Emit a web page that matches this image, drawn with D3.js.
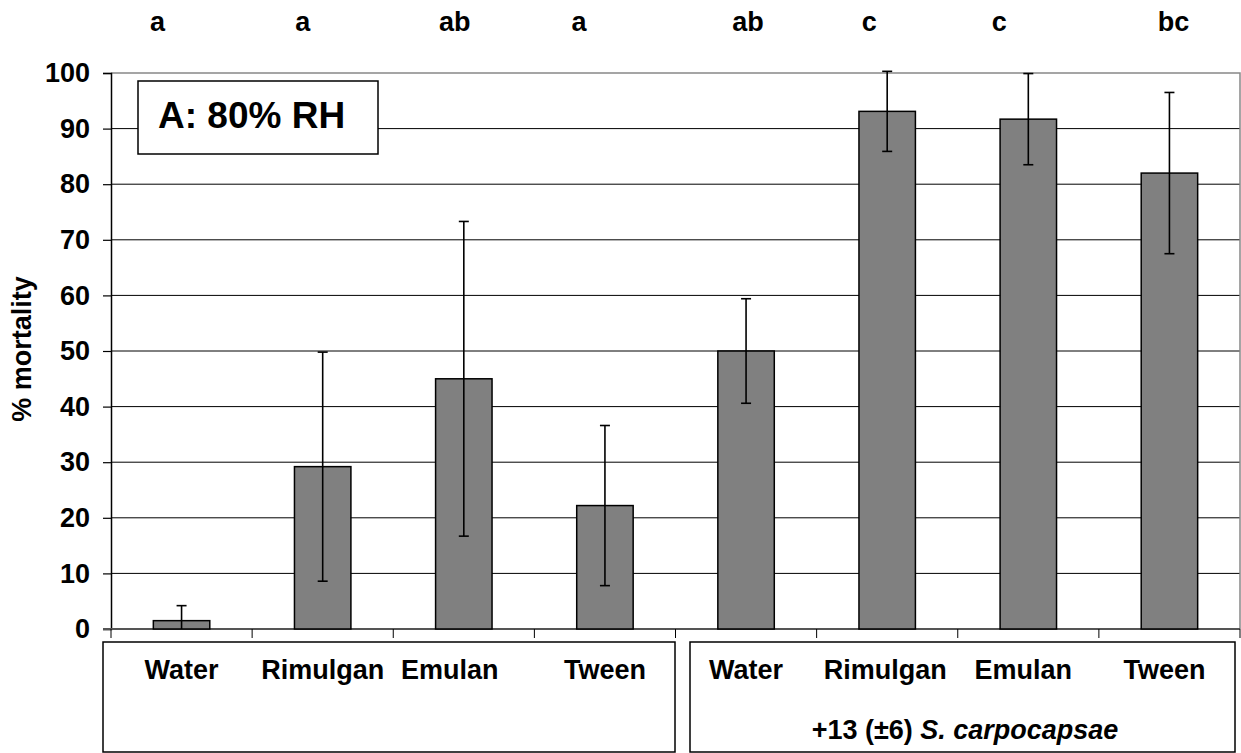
<!DOCTYPE html>
<html>
<head>
<meta charset="utf-8">
<script src="https://cdn.jsdelivr.net/npm/d3@7"></script>
<style>
  body { margin: 0; background: #fff; }
  svg { font-family: "Liberation Sans", Arial, sans-serif; font-weight: bold; }
</style>
</head>
<body>
<div class="chart"></div>
<script>
// data
const treatments = ["Water", "Rimulgan", "Emulan", "Tween", "Water", "Rimulgan", "Emulan", "Tween"];
const mortality = [1.5, 29.2, 45.0, 22.2, 50.0, 93.1, 91.7, 82.0];
const errors = [2.7, 20.6, 28.3, 14.4, 9.4, 7.2, 8.2, 14.5];
const letters = ["a", "a", "ab", "a", "ab", "c", "c", "bc"];
const yTicks = [0, 10, 20, 30, 40, 50, 60, 70, 80, 90, 100];
const groupLabel = "+13 (±6) ";
const groupSpecies = "S. carpocapsae";

// layout
const width = 1241, height = 753;
const plot = { left: 111, right: 1240, top: 73, bottom: 629 };
const letterNudge = [-24, -20, -9, -26, 2, -18, -29, 4];
const labelNudge = [0, 0, -14, 0, 0, -2, -5, -5];
const fontSize = 27;

let svg = d3.select(".chart").append("svg")
    .attr("width", width)
    .attr("height", height);

// #region scales
let xScale = d3.scaleBand()
    .domain(d3.range(treatments.length))
    .range([plot.left, plot.right])
    .paddingInner(0.6)
    .paddingOuter(0.3);
let step = (plot.right - plot.left) / treatments.length;

let yScale = d3.scaleLinear()
    .domain([0, 100])
    .range([plot.bottom, plot.top]);
// #endregion

// #region grid + frame
svg.append("g")
    .selectAll("line")
    .data(yTicks.filter(d => d > 0 && d < 100))
    .enter()
    .append("line")
    .attr("x1", plot.left).attr("x2", plot.right)
    .attr("y1", d => yScale(d)).attr("y2", d => yScale(d))
    .attr("stroke", "#000").attr("stroke-width", 1);

// top + right frame in gray
svg.append("path")
    .attr("d", `M${plot.left},${plot.top}H${plot.right}V${plot.bottom}`)
    .attr("fill", "none").attr("stroke", "#888").attr("stroke-width", 1.5);

// y axis
let gYScale = svg.append("g")
    .attr("transform", `translate(${plot.left},0)`)
    .call(d3.axisLeft(yScale).tickValues(yTicks).tickSize(8).tickPadding(13));
gYScale.select(".domain").attr("stroke", "#000").attr("stroke-width", 1.5);
gYScale.selectAll(".tick line").attr("stroke", "#000").attr("stroke-width", 1.2);
gYScale.selectAll("text")
    .attr("font-size", fontSize).attr("font-weight", "bold")
    .attr("font-family", "Liberation Sans, Arial, sans-serif")
    .attr("fill", "#000");

// x axis line + category boundary ticks
svg.append("line")
    .attr("x1", plot.left - 8).attr("x2", plot.right)
    .attr("y1", plot.bottom).attr("y2", plot.bottom)
    .attr("stroke", "#555").attr("stroke-width", 2);
svg.append("g")
    .selectAll("line")
    .data(d3.range(treatments.length + 1))
    .enter()
    .append("line")
    .attr("x1", d => plot.left + d * step).attr("x2", d => plot.left + d * step)
    .attr("y1", plot.bottom).attr("y2", plot.bottom + 9)
    .attr("stroke", "#000").attr("stroke-width", 1);
// #endregion

// #region bars + error bars
svg.append("g")
    .selectAll("rect")
    .data(mortality)
    .enter()
    .append("rect")
    .attr("x", (d, i) => xScale(i))
    .attr("y", d => yScale(d))
    .attr("width", xScale.bandwidth())
    .attr("height", d => yScale(0) - yScale(d))
    .attr("fill", "#808080")
    .attr("stroke", "#000")
    .attr("stroke-width", 1.5);

let cx = i => xScale(i) + xScale.bandwidth() / 2;
let gErr = svg.append("g").attr("stroke", "#000").attr("stroke-width", 1.6);
mortality.forEach((m, i) => {
    let hi = m + errors[i], lo = Math.max(0, m - errors[i]);
    gErr.append("line")
        .attr("x1", cx(i)).attr("x2", cx(i))
        .attr("y1", yScale(hi)).attr("y2", yScale(lo));
    gErr.append("line")
        .attr("x1", cx(i) - 5).attr("x2", cx(i) + 5)
        .attr("y1", yScale(hi)).attr("y2", yScale(hi));
    if (m - errors[i] > 0) {
        gErr.append("line")
            .attr("x1", cx(i) - 5).attr("x2", cx(i) + 5)
            .attr("y1", yScale(lo)).attr("y2", yScale(lo));
    }
});
// #endregion

// #region letters over bars
svg.append("g")
    .selectAll("text")
    .data(letters)
    .enter()
    .append("text")
    .attr("x", (d, i) => cx(i) + letterNudge[i])
    .attr("y", 31)
    .attr("text-anchor", "middle")
    .attr("font-size", fontSize)
    .text(d => d);
// #endregion

// #region title box
svg.append("rect")
    .attr("x", 138).attr("y", 81)
    .attr("width", 240).attr("height", 73)
    .attr("fill", "#fff").attr("stroke", "#000").attr("stroke-width", 1.5);
svg.append("text")
    .attr("x", 158).attr("y", 128)
    .attr("font-size", 37)
    .text("A: 80% RH");
// #endregion

// #region y title
svg.append("text")
    .attr("transform", `translate(31,349) rotate(-90)`)
    .attr("text-anchor", "middle")
    .attr("font-size", fontSize)
    .text("% mortality");
// #endregion

// #region category boxes
svg.append("rect")
    .attr("x", 103).attr("y", 642)
    .attr("width", 572).attr("height", 110)
    .attr("fill", "none").attr("stroke", "#000").attr("stroke-width", 1.5);
svg.append("rect")
    .attr("x", 690).attr("y", 642)
    .attr("width", 545).attr("height", 110)
    .attr("fill", "none").attr("stroke", "#000").attr("stroke-width", 1.5);

svg.append("g")
    .selectAll("text")
    .data(treatments)
    .enter()
    .append("text")
    .attr("x", (d, i) => cx(i) + labelNudge[i])
    .attr("y", 679)
    .attr("text-anchor", "middle")
    .attr("font-size", fontSize)
    .text(d => d);

let gLabel = svg.append("text")
    .attr("x", 965).attr("y", 739)
    .attr("text-anchor", "middle")
    .attr("font-size", fontSize);
gLabel.append("tspan").text(groupLabel);
gLabel.append("tspan").attr("font-style", "italic").text(groupSpecies);
// #endregion
</script>
</body>
</html>
